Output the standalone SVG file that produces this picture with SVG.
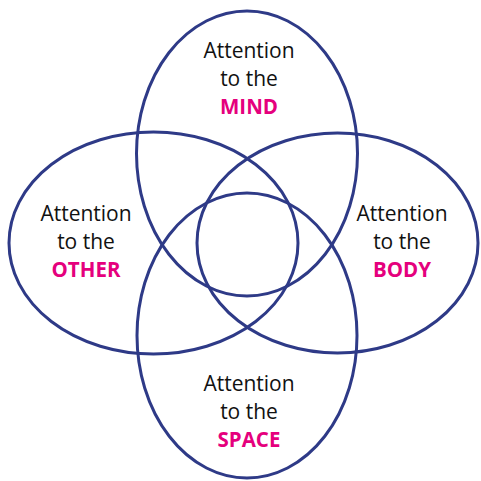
<svg xmlns="http://www.w3.org/2000/svg" width="481" height="481" viewBox="0 0 481 481">
<style>
.ring{fill:none;stroke:#2e3a87;stroke-width:3}
.t{font-family:"Open Sans","Noto Sans",sans-serif;font-size:21px;fill:#111;text-anchor:middle}
.k{font-family:"Open Sans","Noto Sans",sans-serif;font-size:20.5px;font-weight:bold;fill:#e5007d;text-anchor:middle}
</style>
<rect width="481" height="481" fill="#fff"/>
<g id="connectors"></g>
<g id="mind">
<ellipse class="ring" cx="247" cy="153.5" rx="110.5" ry="142.5"/>
<text class="t" x="249" y="58">Attention</text>
<text class="t" x="249" y="86">to the</text>
<text class="k" x="249" y="114">MIND</text>
</g>
<g id="space">
<ellipse class="ring" cx="247" cy="335.5" rx="110" ry="142.5"/>
<text class="t" x="249" y="391">Attention</text>
<text class="t" x="249" y="419">to the</text>
<text class="k" x="249" y="447">SPACE</text>
</g>
<g id="other">
<ellipse class="ring" cx="153.5" cy="243" rx="144.5" ry="111"/>
<text class="t" x="86" y="221">Attention</text>
<text class="t" x="86" y="249">to the</text>
<text class="k" x="86" y="277">OTHER</text>
</g>
<g id="body">
<ellipse class="ring" cx="337.5" cy="243" rx="140.5" ry="110"/>
<text class="t" x="402" y="221">Attention</text>
<text class="t" x="402" y="249">to the</text>
<text class="k" x="402" y="277">BODY</text>
</g>
</svg>
